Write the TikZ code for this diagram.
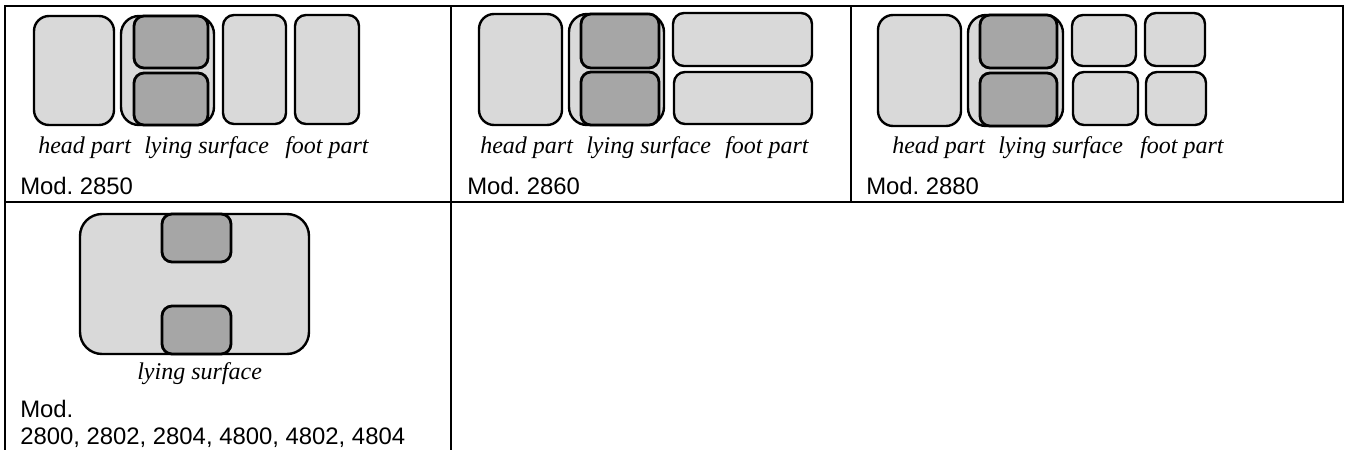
\documentclass[tikz,border=0pt]{standalone}
\usepackage{fontspec}
\setmainfont{Liberation Serif}
\newfontfamily\labelfont{Liberation Sans}
\frenchspacing
\definecolor{partlight}{HTML}{D9D9D9}
\definecolor{partdark}{HTML}{A6A6A6}
\tikzset{
  part/.style={draw=black,line width=1.8pt,inner sep=0pt,outer sep=0pt,text width=0pt},
  lightpart/.style={part,fill=partlight},
  darkpart/.style={part,fill=partdark,line width=2.1pt},
  grid line/.style={draw=black,line width=1.6pt,line cap=butt},
  caption/.style={font=\fontsize{18}{20}\selectfont\itshape,anchor=base west,inner sep=0pt},
  modlabel/.style={font=\fontsize{17.9}{20}\selectfont\labelfont,anchor=base west,inner sep=0pt},
}
% \partbox{style}{name}{x1}{y1}{x2}{y2}{radius}, outer edges in pixels
\newcommand{\partbox}[7]{%
  \pgfmathsetmacro{\pw}{(#5-#3-2)*0.75}%
  \pgfmathsetmacro{\ph}{(#6-#4-2)*0.75}%
  \pgfmathsetmacro{\pr}{#7*0.75}%
  \node[#1,anchor=center,minimum width=\pw pt,minimum height=\ph pt,rounded corners=\pr pt]
    (#2) at ({(#3+#5)/2},{(#4+#6)/2}) {};%
}
\begin{document}
\begin{tikzpicture}[x=0.75pt,y=-0.75pt]
\useasboundingbox (0,0) rectangle (1347,450);
% table
\coordinate (tl) at (5,6);
\coordinate (tr) at (1343,6);
\coordinate (ml) at (5,202);
\coordinate (mr) at (1343,202);
\coordinate (bl) at (5,450);
\coordinate (bm) at (451,450);
\coordinate (tm1) at (451,6);
\coordinate (tm2) at (851,6);
\coordinate (mm2) at (851,202);
\draw[grid line] (bl) -- (tl) -- (tr) -- (mr) -- (ml);
\draw[grid line] (tm1) -- (bm);
\draw[grid line] (tm2) -- (mm2);
% Mod. 2850
\partbox{lightpart}{aHead}{33}{15}{115}{126}{15}
\partbox{lightpart}{aBed}{120}{15}{215}{126}{18}
\partbox{darkpart}{aTop}{133}{15}{209}{69}{10}
\partbox{darkpart}{aBot}{133}{72}{209}{126}{10}
\partbox{lightpart}{aFootA}{222}{14}{287}{125}{11}
\partbox{lightpart}{aFootB}{294}{14}{360}{125}{11}
\node[caption] (aL1) at (38,153) {head part};
\node[caption] (aL2) at (144,153) {lying surface};
\node[caption] (aL3) at (285,153) {foot part};
\node[modlabel] (aM) at (20,194) {Mod. 2850};
% Mod. 2860
\partbox{lightpart}{bHead}{478}{13}{563}{126}{15}
\partbox{lightpart}{bBed}{568}{13}{665}{126}{18}
\partbox{darkpart}{bTop}{580}{13}{660}{69}{10}
\partbox{darkpart}{bBot}{580}{71}{660}{126}{10}
\partbox{lightpart}{bFootA}{672}{12}{813}{67}{11}
\partbox{lightpart}{bFootB}{673}{71}{813}{125}{11}
\node[caption] (bL1) at (480,153) {head part};
\node[caption] (bL2) at (586,153) {lying surface};
\node[caption] (bL3) at (725,153) {foot part};
\node[modlabel] (bM) at (467,194) {Mod. 2860};
% Mod. 2880
\partbox{lightpart}{cHead}{877}{14}{962}{127}{15}
\partbox{lightpart}{cBed}{967}{14}{1064}{127}{18}
\partbox{darkpart}{cTop}{979}{14}{1058}{69}{10}
\partbox{darkpart}{cBot}{979}{72}{1058}{127}{10}
\partbox{lightpart}{cFootA}{1071}{14}{1137}{67}{11}
\partbox{lightpart}{cFootB}{1144}{12}{1206}{67}{11}
\partbox{lightpart}{cFootC}{1072}{71}{1139}{126}{11}
\partbox{lightpart}{cFootD}{1145}{71}{1207}{126}{11}
\node[caption] (cL1) at (892,153) {head part};
\node[caption] (cL2) at (998,153) {lying surface};
\node[caption] (cL3) at (1140,153) {foot part};
\node[modlabel] (cM) at (866,194) {Mod. 2880};
% Mod. 2800...
\partbox{lightpart}{dBed}{79}{213}{310}{355}{22}
\partbox{darkpart}{dTop}{161}{213}{232}{263}{10}
\partbox{darkpart}{dBot}{161}{305}{232}{355}{10}
\node[caption] (dL) at (137,379) {lying surface};
\node[modlabel] (dM1) at (20,417) {Mod.};
\node[modlabel] (dM2) at (20,444) {2800, 2802, 2804, 4800, 4802, 4804};
\end{tikzpicture}
\end{document}
